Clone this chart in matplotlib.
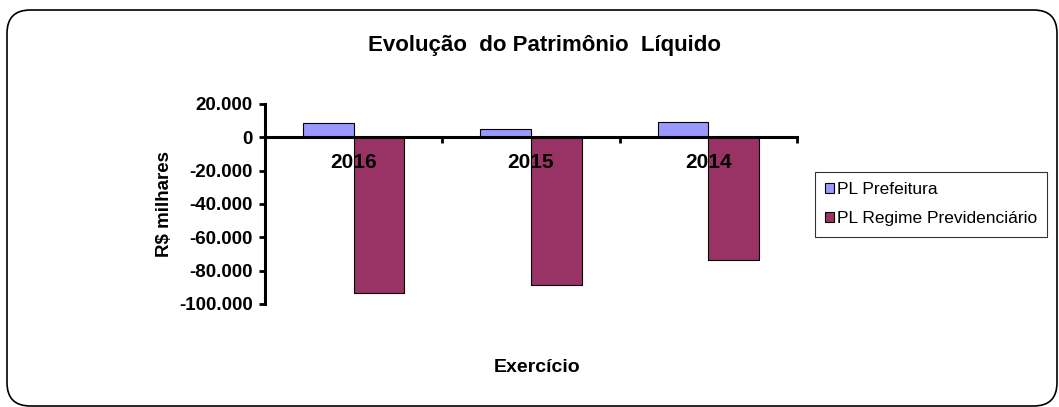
import matplotlib.pyplot as plt
import numpy as np
from matplotlib.patches import FancyBboxPatch
from matplotlib.ticker import FuncFormatter

plt.rcParams['font.family'] = ['Liberation Sans', 'DejaVu Sans']

anos = ['2016', '2015', '2014']
pl_prefeitura = [8400, 5100, 9300]
pl_previdencia = [-93400, -88600, -73500]

fig = plt.figure(figsize=(10.59, 4.07), dpi=100)

# rounded chart-area border
borda = FancyBboxPatch((7 / 1059, 1 / 407), 1050 / 1059, 396 / 407,
                       boxstyle='round,pad=0,rounding_size=0.022',
                       transform=fig.transFigure, fill=False,
                       edgecolor='black', linewidth=1.2,
                       mutation_aspect=1059 / 407)
fig.patches.append(borda)

ax = fig.add_axes([265 / 1059, 1 - 304 / 407, 532 / 1059, 200 / 407])

x = np.arange(len(anos))
w = 1 / 3.5
b1 = ax.bar(x - w / 2, pl_prefeitura, w, color='#9999ff', edgecolor='black',
            linewidth=0.8, label='PL Prefeitura')
b2 = ax.bar(x + w / 2, pl_previdencia, w, color='#993366', edgecolor='black',
            linewidth=0.8, label='PL Regime Previdenciário')

ax.set_xlim(-0.5, len(anos) - 0.5)
ax.set_ylim(-100000, 20000)
ax.set_yticks(np.arange(-100000, 20001, 20000))
ax.yaxis.set_major_formatter(FuncFormatter(
    lambda v, p: f'{int(v):,}'.replace(',', '.')))

for s in ['top', 'right']:
    ax.spines[s].set_visible(False)
ax.spines['bottom'].set_position(('data', 0))
ax.spines['bottom'].set_linewidth(2.2)
ax.spines['left'].set_linewidth(2.2)

ax.set_xticks(x)
ax.set_xticklabels(anos, fontsize=15, fontweight='bold')
ax.set_xticks(np.arange(-0.5, len(anos), 1), minor=True)
ax.tick_params(axis='x', which='major', length=0, pad=11)
ax.tick_params(axis='x', which='minor', length=4, width=2, direction='out')
ax.tick_params(axis='y', length=4, width=2, direction='out', labelsize=13.5, pad=5)
for t in ax.get_yticklabels():
    t.set_fontweight('bold')

ax.set_ylabel('R$ milhares', fontsize=13.5, fontweight='bold', labelpad=4)
fig.text(537 / 1059, 1 - 367 / 407, 'Exercício', ha='center', va='center',
         fontsize=14, fontweight='bold')
fig.text(544 / 1059, 1 - 45 / 407, 'Evolução  do Patrimônio  Líquido',
         ha='center', va='center', fontsize=16, fontweight='bold')

leg = fig.legend(handles=[b1, b2], loc='upper left',
                 bbox_to_anchor=(815 / 1059, 1 - 172 / 407),
                 fontsize=12.5, frameon=True, fancybox=False, handlelength=0.5,
                 handleheight=0.5, handletextpad=0.15, borderpad=0.6,
                 labelspacing=0.8, borderaxespad=0)
leg.get_frame().set_edgecolor('black')
leg.get_frame().set_linewidth(0.8)

fig.savefig('out.png', dpi=100)
